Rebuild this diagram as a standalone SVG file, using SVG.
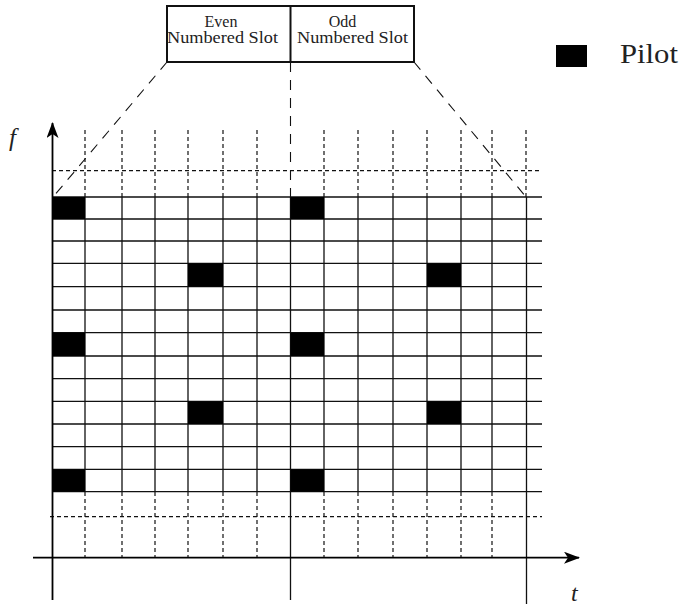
<svg xmlns="http://www.w3.org/2000/svg" width="681" height="608" viewBox="0 0 681 608">
<style>
.g{stroke:#111;stroke-width:1.3;fill:none}
.d{stroke:#111;stroke-width:1.2;fill:none;stroke-dasharray:4 3}
.ld{stroke:#111;stroke-width:1.1;fill:none;stroke-dasharray:10 8}
.ax{stroke:#000;stroke-width:1.8;fill:none}
.p{fill:#000}
text{font-family:'Liberation Serif','Times New Roman',serif;fill:#222}
</style>
<defs>
<marker id="arr" viewBox="0 0 16 12" refX="15" refY="6" markerWidth="16" markerHeight="12" markerUnits="userSpaceOnUse" orient="auto">
<path d="M0,0 L16,6 L0,12 L4,6 Z" fill="#000"/>
</marker>
</defs>
<rect width="681" height="608" fill="#fff"/>
<g id="slot-box">
<rect x="167" y="6" width="247" height="56" fill="none" stroke="#111" stroke-width="2"/>
<line x1="290.5" y1="6" x2="290.5" y2="62" stroke="#111" stroke-width="2"/>
</g>
<g id="even-slot">
<text x="221" y="27" font-size="16" text-anchor="middle">Even</text>
<text x="222.5" y="43" font-size="16" text-anchor="middle" textLength="111" lengthAdjust="spacingAndGlyphs">Numbered Slot</text>
</g>
<g id="odd-slot">
<text x="342.5" y="27" font-size="16" text-anchor="middle">Odd</text>
<text x="352.5" y="43" font-size="16" text-anchor="middle" textLength="111" lengthAdjust="spacingAndGlyphs">Numbered Slot</text>
</g>
<g id="legend">
<rect class="p" x="556" y="45" width="31" height="22"/>
<text x="620" y="63" font-size="27" textLength="58" lengthAdjust="spacingAndGlyphs">Pilot</text>
</g>
<g id="connectors">
<line class="ld" x1="167" y1="62" x2="53" y2="197"/>
<line class="ld" x1="414" y1="62" x2="526" y2="197"/>
<line class="ld" x1="290.5" y1="62" x2="290.5" y2="197"/>
</g>
<g id="grid-dashed">
<line class="d" x1="52" y1="170.7" x2="542" y2="170.7"/>
<line class="d" x1="50" y1="516.7" x2="542" y2="516.7"/>
<path class="d" d="M85,130V197M122,130V197M155,130V197M188,130V197M223,130V197M257,130V197M324,130V197M358,130V197M393,130V197M427,130V197M461,130V197M492,130V197M526,130V197"/>
<path class="d" d="M85,492V557M122,492V557M155,492V557M188,492V557M223,492V557M257,492V557M324,492V557M358,492V557M393,492V557M427,492V557M461,492V557M492,492V557"/>
</g>
<g id="grid">
<path class="g" d="M52.5,197H542M52.5,219H542M52.5,241H542M52.5,263.3H542M52.5,286.7H542M52.5,310H542M52.5,332.7H542M52.5,356H542M52.5,378.7H542M52.5,401.3H542M52.5,424H542M52.5,446.7H542M52.5,469.3H542M52.5,491.7H542"/>
<path class="g" d="M85,197V492M122,197V492M155,197V492M188,197V492M223,197V492M257,197V492M324,197V492M358,197V492M393,197V492M427,197V492M461,197V492M492,197V492"/>
<line class="g" x1="290.5" y1="197" x2="290.5" y2="600"/>
<line class="g" x1="526.5" y1="197" x2="526.5" y2="604"/>
</g>
<g id="pilots">
<rect class="p" x="52.5" y="197" width="32.5" height="22"/>
<rect class="p" x="290.5" y="197" width="33.5" height="22"/>
<rect class="p" x="188" y="263.3" width="35" height="23.4"/>
<rect class="p" x="427" y="263.3" width="34" height="23.4"/>
<rect class="p" x="52.5" y="332.7" width="32.5" height="23.3"/>
<rect class="p" x="290.5" y="332.7" width="33.5" height="23.3"/>
<rect class="p" x="188" y="401.3" width="35" height="22.7"/>
<rect class="p" x="427" y="401.3" width="34" height="22.7"/>
<rect class="p" x="52.5" y="469.3" width="32.5" height="22.4"/>
<rect class="p" x="290.5" y="469.3" width="33.5" height="22.4"/>
</g>
<g id="axes">
<line class="ax" x1="52.5" y1="600" x2="52.5" y2="123" marker-end="url(#arr)"/>
<line class="ax" x1="33" y1="557.7" x2="579" y2="557.7" marker-end="url(#arr)"/>
<text x="9" y="146" font-size="25" font-style="italic">f</text>
<text x="571" y="601" font-size="24" font-style="italic">t</text>
</g>
</svg>
